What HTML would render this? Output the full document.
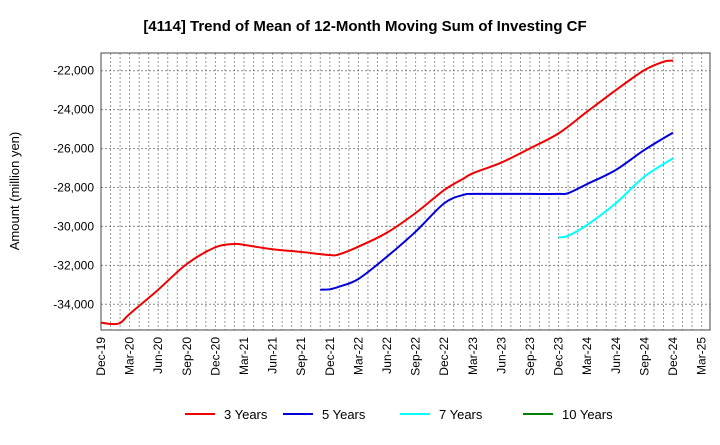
<!DOCTYPE html>
<html><head><meta charset="utf-8"><style>
body{margin:0;background:#fff;}
svg text{font-family:"Liberation Sans",Arial,sans-serif;}
</style></head><body>
<svg id="chart" width="720" height="440" xmlns="http://www.w3.org/2000/svg">
<text x="365" y="31" text-anchor="middle" font-size="15" font-weight="bold">[4114]  Trend of Mean of 12-Month Moving Sum of Investing CF</text>
<text transform="translate(19,191) rotate(-90)" text-anchor="middle" font-size="13">Amount (million yen)</text>
<g id="grid"></g>
<g id="axes"></g>
<g id="series"></g>
<g id="legend"></g>
</svg>
<script>
const xTickLabels=["Dec-19","Mar-20","Jun-20","Sep-20","Dec-20","Mar-21","Jun-21","Sep-21","Dec-21","Mar-22","Jun-22","Sep-22","Dec-22","Mar-23","Jun-23","Sep-23","Dec-23","Mar-24","Jun-24","Sep-24","Dec-24","Mar-25"];
const yTicks=[-22000,-24000,-26000,-28000,-30000,-32000,-34000];
const months3=[0,1,2,3,6,9,12,14,15,18,21,24,25,27,30,33,36,38,39,42,45,48,51,54,57,59,60];
const vals3=[-34940,-35010,-34960,-34500,-33250,-31930,-31070,-30900,-30950,-31170,-31310,-31470,-31430,-31040,-30320,-29310,-28130,-27550,-27270,-26720,-25990,-25220,-24100,-23000,-21970,-21540,-21480];
const months5=[23,24,25,27,30,33,36,38,39,42,45,48,49,51,54,57,60];
const vals5=[-33250,-33230,-33090,-32700,-31550,-30270,-28810,-28380,-28330,-28330,-28330,-28330,-28290,-27820,-27100,-26070,-25180];
const months7=[48,49,51,54,57,60];
const vals7=[-30560,-30480,-29920,-28810,-27440,-26500];
const months10=[];
const vals10=[];

const L=101,R=710,T=53,B=330;
const xS=m=>L+m*600.6/63;
const yS=v=>70.7+(-22000-v)*(304.3-70.7)/12000;
const NS="http://www.w3.org/2000/svg";
function mk(tag,attrs,parent){const e=document.createElementNS(NS,tag);for(const k in attrs)e.setAttribute(k,attrs[k]);parent.appendChild(e);return e;}
const grid=document.getElementById('grid'),axes=document.getElementById('axes'),series=document.getElementById('series'),legend=document.getElementById('legend');
for(let m=1;m<=63;m++){const l=mk('line',{x1:xS(m),x2:xS(m),y1:T,y2:B,stroke:'#999','stroke-dasharray':'2,2','stroke-width':1},grid);

}
yTicks.forEach(v=>{const l=mk('line',{x1:L,x2:R,y1:yS(v),y2:yS(v),stroke:'#888','stroke-dasharray':'2,2','stroke-width':1},grid);


const t=mk('text',{x:L-7,y:yS(v)+4,'text-anchor':'end','font-size':12},axes);t.textContent=v.toLocaleString('en-US');

});
const frame=mk('rect',{x:L,y:T,width:R-L,height:B-T,fill:'none',stroke:'#444','stroke-width':1},axes);


xTickLabels.forEach((s,i)=>{const x=xS(i*3);const t=mk('text',{transform:`translate(${x+4},337) rotate(-90)`,'text-anchor':'end','font-size':12},axes);t.textContent=s;

});
function path(ms,vs){const p=ms.map((m,i)=>[xS(m),yS(vs[i])]);if(!p.length)return '';let d=`M${p[0][0]},${p[0][1]}`;
for(let i=0;i<p.length-1;i++){const p0=p[i-1]||p[i],p1=p[i],p2=p[i+1],p3=p[i+2]||p2;
const c1=[p1[0]+(p2[0]-p0[0])/6,p1[1]+(p2[1]-p0[1])/6],c2=[p2[0]-(p3[0]-p1[0])/6,p2[1]-(p3[1]-p1[1])/6];
d+=`C${c1[0]},${c1[1]} ${c2[0]},${c2[1]} ${p2[0]},${p2[1]}`;}return d;}
const defs=[[months3,vals3,'#ee0000','3 Years','line-3-years'],[months5,vals5,'#0000dd','5 Years','line-5-years'],[months7,vals7,'#00ffff','7 Years','line-7-years'],[months10,vals10,'#008000','10 Years','line-10-years']];
defs.forEach(([ms,vs,c,n,id])=>{if(ms.length){const p=mk('path',{d:path(ms,vs),fill:'none',stroke:c,'stroke-width':2},series);

}});
const lx=[185,283,400,523];
defs.forEach(([ms,vs,c,n],i)=>{const g=mk('g',{},legend);


mk('line',{x1:lx[i],x2:lx[i]+30,y1:414,y2:414,stroke:c,'stroke-width':2},g);
const t=mk('text',{x:lx[i]+39,y:419,'font-size':13},g);t.textContent=n;});
</script>
</body></html>
